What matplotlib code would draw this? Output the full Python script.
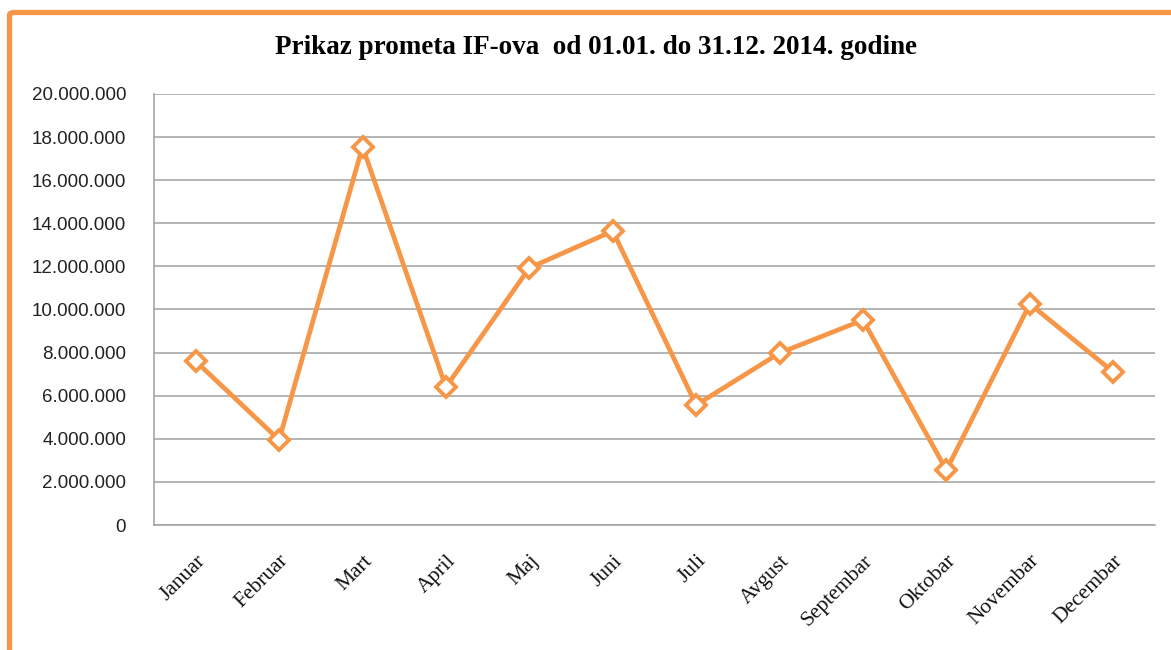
import matplotlib.pyplot as plt
from matplotlib.patches import FancyBboxPatch
from matplotlib.ticker import FuncFormatter

months = ["Januar", "Februar", "Mart", "April", "Maj", "Juni", "Juli",
          "Avgust", "Septembar", "Oktobar", "Novembar", "Decembar"]
turnover = [7600000, 3950000, 17550000, 6400000, 11930000, 13640000,
            5570000, 7980000, 9510000, 2550000, 10260000, 7100000]
y_ticks = list(range(0, 20000001, 2000000))

orange = "#F79646"
grid_gray = "#A0A0A0"


def thousands(v, pos):
    return f"{int(v):,}".replace(",", ".")


fig = plt.figure(figsize=(11.71, 6.5), dpi=100)
ax = fig.add_axes([0.1315, 0.1923, 0.8548, 0.6631])

x = list(range(len(months)))
ax.plot(x, turnover, color=orange, linewidth=3.4, marker="D", markersize=10,
        markerfacecolor="white", markeredgecolor=orange, markeredgewidth=2.8,
        zorder=3)

ax.set_xlim(-0.5, len(months) - 0.5)
ax.set_ylim(0, 20000000)
ax.set_yticks(y_ticks)
ax.yaxis.set_major_formatter(FuncFormatter(thousands))
ax.grid(axis="y", color=grid_gray, linewidth=1.1)
ax.set_axisbelow(True)

for side in ["top", "right"]:
    ax.spines[side].set_visible(False)
ax.spines["left"].set_color(grid_gray)
ax.spines["bottom"].set_color(grid_gray)
ax.spines["left"].set_linewidth(1.1)
ax.spines["bottom"].set_linewidth(1.1)

ax.tick_params(axis="both", length=0)
ax.tick_params(axis="y", pad=20, labelsize=13.5, labelcolor="#222222")
for lab in ax.get_yticklabels():
    lab.set_family("Liberation Sans")

ax.set_xticks(x)
ax.set_xticklabels(months, rotation=45, ha="right", va="top",
                   rotation_mode="anchor", family="Liberation Serif",
                   fontsize=15.5, color="#111111")
ax.tick_params(axis="x", pad=19)

fig.text(0.509, 0.927, "Prikaz prometa IF-ova  od 01.01. do 31.12. 2014. godine",
         ha="center", va="center", family="Liberation Serif",
         fontweight="bold", fontsize=19.5)

# orange chart frame, cut off at the right and bottom edges
frame = FancyBboxPatch((9.5 / 1171, -0.2), 1.3, 1.2 - 12.5 / 650,
                       boxstyle="round,pad=0,rounding_size=0.004",
                       transform=fig.transFigure, fill=False,
                       edgecolor=orange, linewidth=3.8)
fig.add_artist(frame)

fig.savefig("out.png", dpi=100)
